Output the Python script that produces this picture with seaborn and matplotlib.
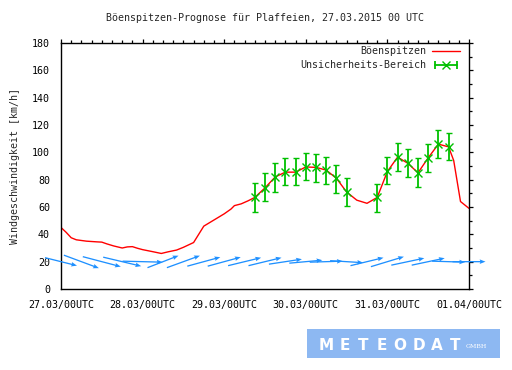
import matplotlib
matplotlib.use("Agg")
import matplotlib.pyplot as plt
from matplotlib.lines import Line2D
from matplotlib.legend_handler import HandlerLine2D, HandlerTuple
from matplotlib.patches import Rectangle
from matplotlib.ticker import MultipleLocator
import numpy as np
import seaborn as sns

# gust forecast, hours after 27.03.2015 00 UTC -> km/h
gust_hours = [0, 1.5, 3, 4.5, 6, 7.5, 10.5, 12, 13.5, 15.5, 18, 19.5, 21, 22.5, 24,
              27, 29.5, 31.5, 34, 36, 39, 40.5, 42, 44, 46, 48, 50, 51, 53, 55,
              57, 60, 63, 66, 69, 72, 75, 78, 81, 84, 87, 90, 93, 96, 99, 102,
              105, 108, 111, 114, 115.5, 117.5, 120]
gust_kmh = [45, 41.5, 37.5, 36, 35.5, 35, 34.5, 34.3, 33, 31.5, 30, 30.8, 31, 29.8, 28.8,
            27.3, 26, 27.2, 28.5, 30.5, 34, 40, 46, 49, 52, 55, 58.5, 61, 62.3, 64.5,
            67, 74, 82, 85.5, 85.5, 89.3, 89, 87, 81, 71, 65, 62.7, 67, 86, 96.5, 92,
            85, 96, 106, 104, 94, 64, 59]

# uncertainty range (marker + bar ends)
unc_hours = [57, 60, 63, 66, 69, 72, 75, 78, 81, 84, 93, 96, 99, 102, 105, 108, 111, 114]
unc_mid = [67, 74, 82, 85.5, 85.5, 89.3, 89, 87, 81, 71, 67, 86, 96.5, 92, 85, 96, 106, 104]
unc_low = [56.6, 64.6, 71.2, 76.1, 76.1, 79.7, 78.5, 76.8, 70.5, 60.7,
           56.6, 76.8, 86.3, 82.2, 74.8, 85.8, 95.6, 94.4]
unc_high = [77.3, 84.6, 92, 95.6, 95.6, 99.3, 98.5, 96.8, 90.7, 81,
            76.8, 96.8, 106.6, 102.2, 95.6, 105.8, 116.3, 113.9]

# wind arrows every 6 h (arrow components in pixels)
wind_hours = [0, 6, 12, 18, 24, 30, 36, 42, 48, 54, 60, 66, 72, 78, 84, 90, 96, 102, 108, 114, 120]
wind_dx = [32, 35, 38, 38, 40, 31, 33, 33, 33, 33, 33, 33, 33, 33, 33, 33, 33, 33, 33, 33, 33]
wind_dy = [-8, -13, -10, -9, -1, 12, 12, 9, 9, 8, 8, 5, 3, 1, -2, 8, 10, 7, 7, -1, 0]
wind_level = 20

day_hours = [0, 24, 48, 72, 96, 120]
day_labels = ["27.03/00UTC", "28.03/00UTC", "29.03/00UTC",
              "30.03/00UTC", "31.03/00UTC", "01.04/00UTC"]

RED = "#ff0000"
GREEN = "#00c000"
BLUE = "#1e90ff"

sns.set_style("white")
plt.rcParams['font.family'] = ['DejaVu Sans Mono', 'DejaVu Sans']
plt.rcParams['font.size'] = 7.2

fig = plt.figure(figsize=(5.12, 3.70), dpi=100)
ax = fig.add_axes([61 / 512, 1 - 289 / 370, 408 / 512, 246 / 370])

sns.lineplot(x=gust_hours, y=gust_kmh, ax=ax, color=RED, lw=1.0)

mid = np.array(unc_mid)
yerr = [mid - np.array(unc_low), np.array(unc_high) - mid]
ax.errorbar(unc_hours, unc_mid, yerr=yerr, fmt="x", color=GREEN, ecolor=GREEN,
            elinewidth=1.3, capsize=2, capthick=1.3, markersize=6, mew=1.0, zorder=4)

ax.quiver(wind_hours, [wind_level] * len(wind_hours), wind_dx, wind_dy,
          angles="uv", scale_units="dots", scale=1, pivot="middle", units="dots",
          width=1.3, headwidth=3.5, headlength=4.5, headaxislength=4,
          color=BLUE, clip_on=False, zorder=3)

ax.set_xlim(0, 120)
ax.set_ylim(0, 180)
ax.set_xticks(day_hours)
ax.set_xticklabels(day_labels)
ax.xaxis.set_minor_locator(MultipleLocator(3))
ax.yaxis.set_major_locator(MultipleLocator(20))
ax.yaxis.set_minor_locator(MultipleLocator(10))
ax.tick_params(which="both", direction="out", top=True, right=True, width=0.9,
               colors="black", pad=5)
ax.tick_params(which="major", length=3)
ax.tick_params(which="minor", length=2)
for sp in ax.spines.values():
    sp.set_color("black")
    sp.set_linewidth(1.0)

ax.set_ylabel("Windgeschwindigkeit [km/h]")
ax.yaxis.set_label_coords(-0.1, 0.5)

fig.text(265 / 512, 1 - 18 / 370, "Böenspitzen-Prognose für Plaffeien, 27.03.2015 00 UTC",
         ha="center", va="center")

# legend
h_red = Line2D([], [], color=RED, lw=1.0)
h_caps = Line2D([], [], color=GREEN, lw=1.3, marker="|", markersize=6, mew=1.3)
h_x = Line2D([], [], color=GREEN, lw=0, marker="x", markersize=6, mew=1.0)
ax.legend([h_red, (h_caps, h_x)], ["Böenspitzen", "Unsicherheits-Bereich"],
          handler_map={h_caps: HandlerLine2D(numpoints=2), tuple: HandlerTuple(ndivide=1)},
          loc="upper right", bbox_to_anchor=(1 - 9 / 408, 1 - 3 / 246), frameon=False,
          markerfirst=False, handlelength=2.8, handletextpad=0.6, labelspacing=0.45,
          borderaxespad=0, borderpad=0, numpoints=1)

# logo
fig.patches.append(Rectangle((307 / 512, 1 - 358 / 370), 193 / 512, 29 / 370,
                             transform=fig.transFigure, facecolor="#8db8f2",
                             edgecolor="none"))
for i, letter in enumerate("METEODAT"):
    fig.text((326 + i * 18.5) / 512, 1 - 345 / 370, letter, color="white",
             fontsize=11, fontweight="bold", family="DejaVu Sans",
             ha="center", va="center")
fig.text(476 / 512, 1 - 347 / 370, "GMBH", color="white", fontsize=4.5,
         family="DejaVu Serif", ha="center", va="center")

fig.savefig("out.png", dpi=100, facecolor="white")
